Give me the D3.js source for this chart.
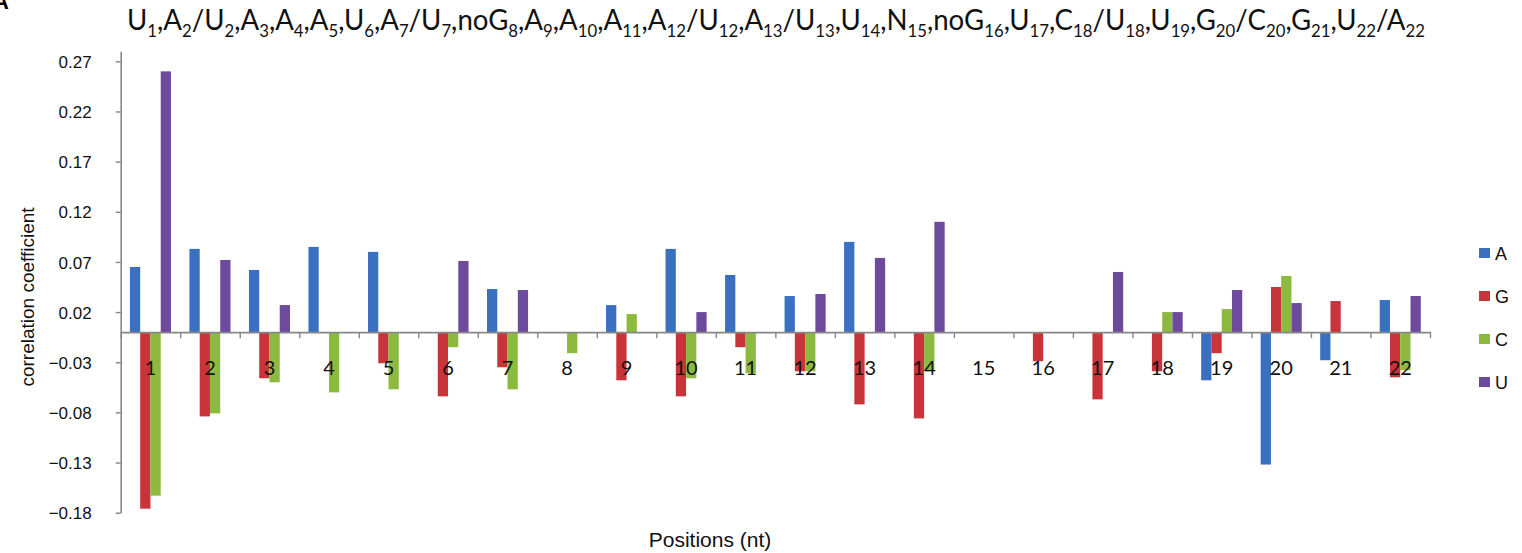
<!DOCTYPE html>
<html lang="en">
<head>
  <meta charset="UTF-8" />
  <title>Correlation coefficient by position</title>
  <script src="https://d3js.org/d3.v7.min.js"></script>
  <style>
    body {
      margin: 0;
      background: #fff;
    }
    svg {
      display: block;
    }
    .tick text {
      font-family: "Liberation Sans", Arial, sans-serif;
      font-size: 17px;
      fill: #111;
    }
    .cat-label {
      font-family: Lato, sans-serif;
      font-size: 20px;
      fill: #111;
    }
    .legend text {
      font-family: "Liberation Sans", Arial, sans-serif;
      font-size: 18px;
      fill: #111;
    }
  </style>
</head>
<body>
  <svg id="chart" width="1522" height="553"></svg>

  <script>
    const positions = ["1", "2", "3", "4", "5", "6", "7", "8", "9", "10", "11",
                       "12", "13", "14", "15", "16", "17", "18", "19", "20", "21", "22"];
    const seriesNames = ["A", "G", "C", "U"];
    const colors = ["#3b70c0", "#c8343a", "#8dba3e", "#6d4a9c"];

    // correlation coefficient per position, one array per nucleotide
    const valuesA = [0.065, 0.083, 0.062, 0.085, 0.080, 0, 0.043, 0, 0.027, 0.083, 0.057,
                     0.036, 0.090, 0, 0, 0, 0, 0, -0.048, -0.132, -0.028, 0.032];
    const valuesG = [-0.176, -0.084, -0.046, 0, -0.031, -0.064, -0.035, 0, -0.048, -0.064, -0.015,
                     -0.039, -0.072, -0.086, 0, -0.029, -0.067, -0.039, -0.021, 0.045, 0.031, -0.045];
    const valuesC = [-0.163, -0.081, -0.050, -0.060, -0.057, -0.015, -0.057, -0.021, 0.018, -0.046, -0.041,
                     -0.039, 0, -0.039, 0, 0, 0, 0.020, 0.023, 0.056, 0, -0.038];
    const valuesU = [0.260, 0.072, 0.027, 0, 0, 0.071, 0.042, 0, 0, 0.020, 0,
                     0.038, 0.074, 0.110, 0, 0, 0.060, 0.020, 0.042, 0.029, 0, 0.036];

    const yTicks = [-0.18, -0.13, -0.08, -0.03, 0.02, 0.07, 0.12, 0.17, 0.22, 0.27];

    const titleTokens = ["U1", "A2/U2", "A3", "A4", "A5", "U6", "A7/U7", "noG8", "A9", "A10", "A11",
                         "A12/U12", "A13/U13", "U14", "N15", "noG16", "U17", "C18/U18", "U19",
                         "G20/C20", "G21", "U22/A22"];

    const allValues = [valuesA, valuesG, valuesC, valuesU];

    const svg = d3.select("#chart");
    const left = 120.7, right = 1430;

    const y = d3.scaleLinear()
      .domain([-0.18, 0.28])
      .range([512.7, 51.3]);

    const x0 = d3.scaleBand()
      .domain(positions)
      .range([left, right])
      .paddingInner(0.31)
      .paddingOuter(0.155);

    const x1 = d3.scaleBand()
      .domain(seriesNames)
      .range([0, x0.bandwidth()]);

    // tick marks sit between categories
    const xEdge = d3.scaleLinear()
      .domain([0, positions.length])
      .range([left, right]);

    // y axis
    const yAxis = svg.append("g")
      .attr("transform", `translate(${left},0)`)
      .call(d3.axisLeft(y)
        .tickValues(yTicks)
        .tickFormat(d3.format(".2f"))
        .tickSize(5)
        .tickSizeOuter(0)
        .tickPadding(24));
    yAxis.select(".domain").attr("stroke", "#878787").attr("stroke-width", 1.6);
    yAxis.selectAll(".tick line").attr("stroke", "#878787").attr("stroke-width", 1.4);
    yAxis.selectAll(".tick text").attr("dy", "0.36em");

    // bars
    const groups = svg.append("g")
      .selectAll("g")
      .data(positions)
      .join("g")
      .attr("transform", d => `translate(${x0(d)},0)`);

    groups.selectAll("rect")
      .data((d, i) => seriesNames.map((s, k) => ({ s, k, v: allValues[k][i] })).filter(e => e.v !== 0))
      .join("rect")
      .attr("x", e => x1(e.s))
      .attr("width", x1.bandwidth())
      .attr("y", e => y(Math.max(0, e.v)))
      .attr("height", e => Math.abs(y(e.v) - y(0)))
      .attr("fill", e => colors[e.k]);

    // zero line with ticks between categories
    const xAxis = svg.append("g")
      .attr("transform", `translate(0,${y(0)})`)
      .call(d3.axisBottom(xEdge)
        .tickValues(d3.range(0, positions.length + 1))
        .tickFormat("")
        .tickSize(6)
        .tickSizeOuter(0));
    xAxis.select(".domain").attr("stroke", "#878787").attr("stroke-width", 1.6);
    xAxis.selectAll(".tick line").attr("stroke", "#878787").attr("stroke-width", 1.4);

    // category labels, drawn over the bars
    svg.append("g")
      .selectAll("text")
      .data(positions)
      .join("text")
      .attr("class", "cat-label")
      .attr("x", d => x0(d) + x0.bandwidth() / 2)
      .attr("y", 375)
      .attr("text-anchor", "middle")
      .text(d => d);

    // axis titles
    svg.append("text")
      .attr("transform", "translate(34,297) rotate(-90)")
      .attr("text-anchor", "middle")
      .style("font-family", "'Liberation Sans', Arial, sans-serif")
      .style("font-size", "19px")
      .attr("fill", "#111")
      .text("correlation coefficient");

    svg.append("text")
      .attr("x", 710)
      .attr("y", 547)
      .attr("text-anchor", "middle")
      .style("font-family", "'Liberation Sans', Arial, sans-serif")
      .style("font-size", "21px")
      .attr("fill", "#111")
      .text("Positions (nt)");

    // legend
    const legend = svg.append("g")
      .attr("class", "legend")
      .selectAll("g")
      .data(seriesNames)
      .join("g")
      .attr("transform", (d, i) => `translate(1479,${253 + i * 43})`);
    legend.append("rect")
      .attr("y", -5)
      .attr("width", 11)
      .attr("height", 10)
      .attr("fill", (d, i) => colors[i]);
    legend.append("text")
      .attr("x", 16)
      .attr("y", 6.5)
      .text(d => d);

    // title with subscripts
    const title = svg.append("text")
      .attr("x", 127)
      .attr("y", 30)
      .style("font-family", "Lato, sans-serif")
      .style("font-size", "28px")
      .attr("fill", "#111");

    const subShift = 7;
    let pending = 0; // baseline offset still to undo on the next normal run
    function run(str) {
      const t = title.append("tspan").text(str);
      if (pending) { t.attr("dy", pending); pending = 0; }
    }
    titleTokens.forEach((tok, ti) => {
      tok.split("/").forEach((part, pi) => {
        const m = part.match(/^([A-Za-z]+)(\d+)$/);
        if (pi > 0) run("/");
        run(m[1]);
        title.append("tspan").attr("dy", subShift).style("font-size", "17px").text(m[2]);
        pending = -subShift;
      });
      if (ti < titleTokens.length - 1) run(",");
    });

    // fit title width to the reference span
    title.attr("textLength", 1298).attr("lengthAdjust", "spacingAndGlyphs");

    // clipped panel letter in the corner
    svg.append("text")
      .attr("x", -7)
      .attr("y", 9)
      .style("font-family", "'Liberation Sans', Arial, sans-serif")
      .style("font-weight", "bold")
      .style("font-size", "22px")
      .attr("fill", "#000")
      .text("A");
  </script>
</body>
</html>
